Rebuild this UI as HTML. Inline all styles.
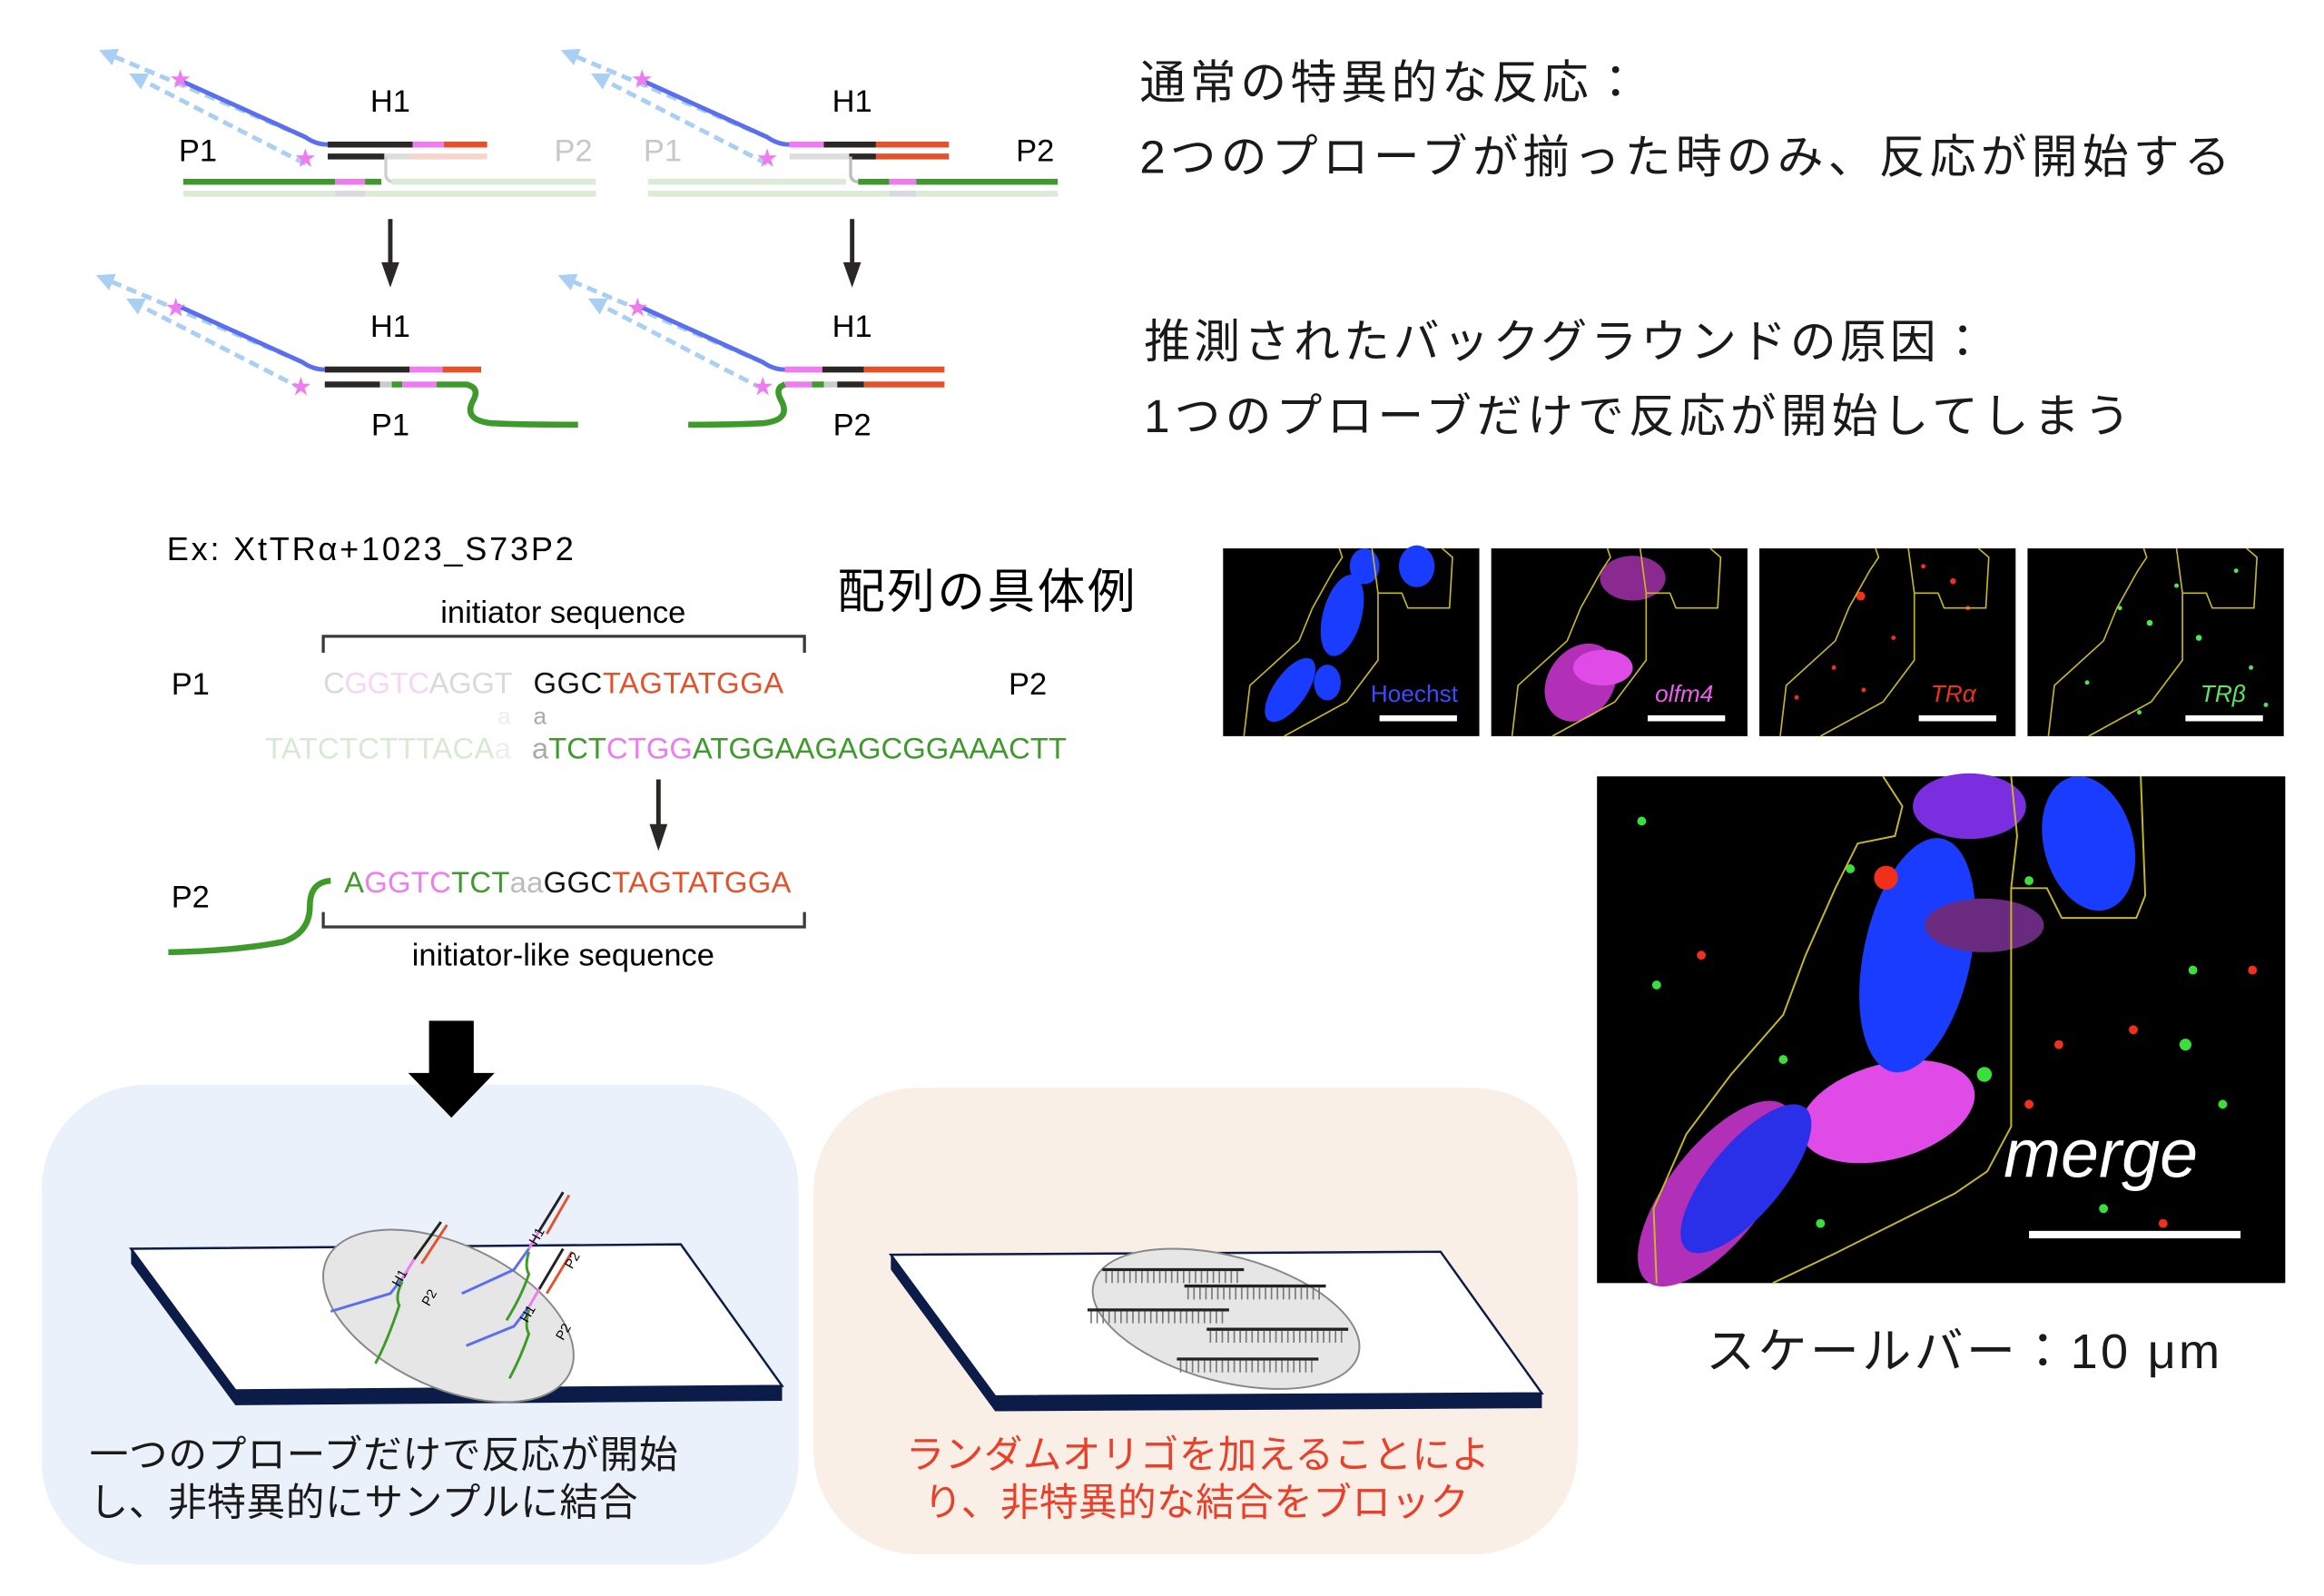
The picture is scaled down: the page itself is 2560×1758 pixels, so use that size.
<!DOCTYPE html>
<html><head><meta charset="utf-8"><style>
html,body{margin:0;padding:0;background:#fff;}
svg{display:block;}
text{font-family:"Liberation Sans","Noto Sans CJK JP",sans-serif;}
</style></head><body>
<svg width="2560" height="1758" viewBox="0 0 1560 1071" preserveAspectRatio="none" xmlns="http://www.w3.org/2000/svg">
<defs>
<marker id="ab" viewBox="0 0 10 10" refX="5" refY="5" markerWidth="4" markerHeight="4" orient="auto"><path d="M0,0L10,5L0,10z" fill="#a9cff5"/></marker>
<g id="outline"><path d="M14 126 L18 92 L51 62 L60 40 L74 15 L80 6 L78 0 M100 0 L104 30 L104 75 L83 103 L41 126 M104 30 L120 30 L124 40 L152 40 L154 6 L147 0" fill="none" stroke="#c8b820" stroke-width="1"/></g>
</defs>

<!-- ===== top diagrams ===== -->
<g stroke-linecap="butt">
<line x1="205" y1="92" x2="72" y2="36" stroke="#a9cff5" stroke-width="3" stroke-dasharray="7,4" marker-end="url(#ab)"/>
<line x1="205" y1="110" x2="92" y2="52" stroke="#a9cff5" stroke-width="3" stroke-dasharray="7,4" marker-end="url(#ab)"/>
<path d="M121 54 L205 92 Q212 97 220 97" fill="none" stroke="#5a6ef0" stroke-width="3"/>
<line x1="220" y1="97" x2="277" y2="97" stroke="#2b2726" stroke-width="4"/>
<line x1="277" y1="97" x2="298" y2="97" stroke="#ee7cf0" stroke-width="4"/>
<line x1="298" y1="97" x2="327" y2="97" stroke="#e4522c" stroke-width="4"/>
<line x1="220" y1="105" x2="258" y2="105" stroke="#2b2726" stroke-width="4"/>
<line x1="258" y1="105" x2="275" y2="105" stroke="#ddd" stroke-width="4"/>
<line x1="275" y1="105" x2="327" y2="105" stroke="#f6d5cd" stroke-width="4"/>
<path d="M259 105 L259 118 Q260 122 264 122" fill="none" stroke="#cfcfcf" stroke-width="2"/>
<line x1="123" y1="122" x2="225" y2="122" stroke="#3e9a2a" stroke-width="4"/>
<line x1="225" y1="122" x2="245" y2="122" stroke="#ee7cf0" stroke-width="4"/>
<line x1="245" y1="122" x2="256" y2="122" stroke="#3e9a2a" stroke-width="4"/>
<line x1="263" y1="122" x2="400" y2="122" stroke="#dcebd8" stroke-width="4"/>
<line x1="123" y1="130" x2="400" y2="130" stroke="#dcebd8" stroke-width="4"/>
<line x1="225" y1="130" x2="245" y2="130" stroke="#dcd8e0" stroke-width="4"/>
<text x="121" y="58" font-size="14" fill="#ee7cf0" text-anchor="middle">★</text>
<text x="205" y="111" font-size="14" fill="#ee7cf0" text-anchor="middle">★</text>
<text x="262" y="75" font-size="21" text-anchor="middle">H1</text>
<text x="120" y="108" font-size="21">P1</text>
<text x="372" y="108" font-size="21" fill="#c8c8c8">P2</text>

<line x1="515" y1="92" x2="382" y2="36" stroke="#a9cff5" stroke-width="3" stroke-dasharray="7,4" marker-end="url(#ab)"/>
<line x1="515" y1="110" x2="402" y2="52" stroke="#a9cff5" stroke-width="3" stroke-dasharray="7,4" marker-end="url(#ab)"/>
<path d="M431 54 L515 92 Q522 97 530 97" fill="none" stroke="#5a6ef0" stroke-width="3"/>
<line x1="530" y1="97" x2="553" y2="97" stroke="#ee7cf0" stroke-width="4"/>
<line x1="553" y1="97" x2="588" y2="97" stroke="#2b2726" stroke-width="4"/>
<line x1="588" y1="97" x2="637" y2="97" stroke="#e4522c" stroke-width="4"/>
<line x1="530" y1="105" x2="570" y2="105" stroke="#ddd" stroke-width="4"/>
<line x1="570" y1="105" x2="588" y2="105" stroke="#2b2726" stroke-width="4"/>
<line x1="588" y1="105" x2="637" y2="105" stroke="#e4522c" stroke-width="4"/>
<path d="M571 105 L571 118 Q572 122 576 122" fill="none" stroke="#bdbdbd" stroke-width="2"/>
<line x1="435" y1="122" x2="568" y2="122" stroke="#dcebd8" stroke-width="4"/>
<line x1="576" y1="122" x2="597" y2="122" stroke="#3e9a2a" stroke-width="4"/>
<line x1="597" y1="122" x2="615" y2="122" stroke="#ee7cf0" stroke-width="4"/>
<line x1="615" y1="122" x2="710" y2="122" stroke="#3e9a2a" stroke-width="4"/>
<line x1="435" y1="130" x2="710" y2="130" stroke="#dcebd8" stroke-width="4"/>
<line x1="597" y1="130" x2="615" y2="130" stroke="#dcd8e0" stroke-width="4"/>
<text x="431" y="58" font-size="14" fill="#ee7cf0" text-anchor="middle">★</text>
<text x="515" y="111" font-size="14" fill="#ee7cf0" text-anchor="middle">★</text>
<text x="572" y="75" font-size="21" text-anchor="middle">H1</text>
<text x="432" y="108" font-size="21" fill="#c8c8c8">P1</text>
<text x="682" y="108" font-size="21">P2</text>

<line x1="262" y1="147" x2="262" y2="178" stroke="#2b2726" stroke-width="3"/>
<path d="M256 176 L268 176 L262 193z" fill="#2b2726"/>
<line x1="572" y1="147" x2="572" y2="178" stroke="#2b2726" stroke-width="3"/>
<path d="M566 176 L578 176 L572 193z" fill="#2b2726"/>

<line x1="203" y1="243" x2="70" y2="187" stroke="#a9cff5" stroke-width="3" stroke-dasharray="7,4" marker-end="url(#ab)"/>
<line x1="203" y1="261" x2="90" y2="203" stroke="#a9cff5" stroke-width="3" stroke-dasharray="7,4" marker-end="url(#ab)"/>
<path d="M119 205 L203 243 Q210 248 218 248" fill="none" stroke="#5a6ef0" stroke-width="3"/>
<line x1="218" y1="248" x2="275" y2="248" stroke="#2b2726" stroke-width="4"/>
<line x1="275" y1="248" x2="297" y2="248" stroke="#ee7cf0" stroke-width="4"/>
<line x1="297" y1="248" x2="323" y2="248" stroke="#e4522c" stroke-width="4"/>
<line x1="218" y1="258" x2="255" y2="258" stroke="#2b2726" stroke-width="4"/>
<line x1="255" y1="258" x2="263" y2="258" stroke="#ccc" stroke-width="4"/>
<line x1="263" y1="258" x2="270" y2="258" stroke="#3e9a2a" stroke-width="4"/>
<line x1="270" y1="258" x2="293" y2="258" stroke="#ee7cf0" stroke-width="4"/>
<path d="M293 258 L313 258 Q322 260 318 268 Q310 282 330 284 Q350 285 388 285" fill="none" stroke="#3e9a2a" stroke-width="4"/>
<text x="118" y="211" font-size="14" fill="#ee7cf0" text-anchor="middle">★</text>
<text x="202" y="264" font-size="14" fill="#ee7cf0" text-anchor="middle">★</text>
<text x="262" y="226" font-size="21" text-anchor="middle">H1</text>
<text x="262" y="292" font-size="21" text-anchor="middle">P1</text>

<line x1="512" y1="243" x2="380" y2="187" stroke="#a9cff5" stroke-width="3" stroke-dasharray="7,4" marker-end="url(#ab)"/>
<line x1="512" y1="261" x2="400" y2="203" stroke="#a9cff5" stroke-width="3" stroke-dasharray="7,4" marker-end="url(#ab)"/>
<path d="M428 205 L512 243 Q519 248 527 248" fill="none" stroke="#5a6ef0" stroke-width="3"/>
<line x1="527" y1="248" x2="552" y2="248" stroke="#ee7cf0" stroke-width="4"/>
<line x1="552" y1="248" x2="580" y2="248" stroke="#2b2726" stroke-width="4"/>
<line x1="580" y1="248" x2="634" y2="248" stroke="#e4522c" stroke-width="4"/>
<line x1="527" y1="258" x2="545" y2="258" stroke="#ee7cf0" stroke-width="4"/>
<line x1="545" y1="258" x2="553" y2="258" stroke="#3e9a2a" stroke-width="4"/>
<line x1="553" y1="258" x2="562" y2="258" stroke="#ccc" stroke-width="4"/>
<line x1="562" y1="258" x2="580" y2="258" stroke="#2b2726" stroke-width="4"/>
<line x1="580" y1="258" x2="634" y2="258" stroke="#e4522c" stroke-width="4"/>
<path d="M527 258 Q520 260 524 268 Q532 282 512 284 Q490 285 462 285" fill="none" stroke="#3e9a2a" stroke-width="4"/>
<text x="428" y="211" font-size="14" fill="#ee7cf0" text-anchor="middle">★</text>
<text x="512" y="264" font-size="14" fill="#ee7cf0" text-anchor="middle">★</text>
<text x="572" y="226" font-size="21" text-anchor="middle">H1</text>
<text x="572" y="292" font-size="21" text-anchor="middle">P2</text>
</g>

<text x="765" y="66" font-size="31" fill="#1a1a1a" textLength="335">通常の特異的な反応：</text>
<text x="765" y="116" font-size="31" fill="#1a1a1a" textLength="732">2つのプローブが揃った時のみ、反応が開始する</text>
<text x="768" y="240" font-size="31" fill="#1a1a1a" textLength="565">推測されたバックグラウンドの原因：</text>
<text x="768" y="290" font-size="31" fill="#1a1a1a" textLength="662">1つのプローブだけで反応が開始してしまう</text>

<text x="112" y="376" font-size="22" textLength="273">Ex: XtTRα+1023_S73P2</text>
<text x="562" y="408" font-size="32" textLength="200">配列の具体例</text>
<text x="378" y="418" font-size="21" text-anchor="middle">initiator sequence</text>
<path d="M217 438 L217 427 L540 427 L540 438" fill="none" stroke="#3a3a3a" stroke-width="2"/>
<text x="115" y="466" font-size="21">P1</text>
<text x="677" y="466" font-size="21">P2</text>
<text x="217" y="465" font-size="20" textLength="127"><tspan fill="#d9d9d9">C</tspan><tspan fill="#f5d6f5">GGTC</tspan><tspan fill="#d9d9d9">AGGT</tspan></text>
<text x="358" y="465" font-size="20" textLength="168"><tspan fill="#111">GGC</tspan><tspan fill="#e4522c">TAGTATGGA</tspan></text>
<text x="334" y="486" font-size="16" fill="#eee">a</text>
<text x="358" y="486" font-size="16" fill="#aaa">a</text>
<text x="178" y="509" font-size="20" fill="#d6ead2" textLength="165">TATCTCTTTACA<tspan fill="#eee">a</tspan></text>
<text x="357" y="509" font-size="20" textLength="359"><tspan fill="#aaa">a</tspan><tspan fill="#3e9a2a">TCT</tspan><tspan fill="#ee7cf0">CTGG</tspan><tspan fill="#3e9a2a">ATGGAAGAGCGGAAACTT</tspan></text>
<line x1="442" y1="523" x2="442" y2="555" stroke="#2b2726" stroke-width="3"/>
<path d="M436 553 L448 553 L442 571z" fill="#2b2726"/>
<text x="115" y="609" font-size="21">P2</text>
<path d="M113 639 Q160 638 190 632 Q208 626 208 608 Q208 592 222 591" fill="none" stroke="#3e9a2a" stroke-width="4"/>
<text x="231" y="599" font-size="20" textLength="300"><tspan fill="#3e9a2a">A</tspan><tspan fill="#ee7cf0">GGTC</tspan><tspan fill="#3e9a2a">TCT</tspan><tspan fill="#bbb">aa</tspan><tspan fill="#111">GGC</tspan><tspan fill="#e4522c">TAGTATGGA</tspan></text>
<path d="M217 612 L217 622 L540 622 L540 612" fill="none" stroke="#3a3a3a" stroke-width="2"/>
<text x="378" y="648" font-size="21" text-anchor="middle">initiator-like sequence</text>

<rect x="28" y="728" width="508" height="322" rx="70" fill="#eaf1fa"/>
<rect x="546" y="730" width="513" height="313" rx="70" fill="#f9efe6"/>
<rect x="288" y="685" width="30" height="38" fill="#000"/>
<path d="M274 720 L332 720 L303 750z" fill="#000"/>

<path d="M88 838 L158 933 L525 930 L525 940 L158 943 L88 848z" fill="#0b1c48"/>
<path d="M88 838 L457 835 L525 930 L158 933z" fill="#fff" stroke="#0b1c48" stroke-width="1.5"/>
<ellipse cx="301" cy="883" rx="90" ry="48" transform="rotate(25 301 883)" fill="#e6e6e6" stroke="#888" stroke-width="1.2"/>
<g fill="none" stroke-width="1.8">
 <path d="M222 880 L262 868 L270 858" stroke="#5a6ef0"/><path d="M270 858 L278 845" stroke="#ee7cf0"/><path d="M278 845 L296 820" stroke="#222"/><path d="M283 848 L300 822" stroke="#e4522c"/>
 <path d="M270 860 Q265 870 268 876 Q260 900 252 915" stroke="#3e9a2a"/>
 <path d="M310 868 L345 852 L355 838" stroke="#5a6ef0"/><path d="M355 838 L362 826" stroke="#ee7cf0"/><path d="M362 826 L378 800" stroke="#222"/><path d="M367 828 L382 802" stroke="#e4522c"/>
 <path d="M355 840 Q352 850 355 855 Q350 870 340 886" stroke="#3e9a2a"/>
 <path d="M313 903 L345 890 L355 877" stroke="#5a6ef0"/><path d="M355 877 L362 865" stroke="#ee7cf0"/><path d="M362 865 L378 838" stroke="#222"/><path d="M367 868 L384 840" stroke="#e4522c"/>
 <path d="M355 879 Q352 890 355 895 Q350 910 342 925" stroke="#3e9a2a"/>
</g>
<text x="0" y="0" font-size="9" transform="translate(268 864) rotate(-60)">H1</text>
<text x="0" y="0" font-size="9" transform="translate(288 877) rotate(-60)">P2</text>
<text x="0" y="0" font-size="9" transform="translate(360 836) rotate(-60)">H1</text>
<text x="0" y="0" font-size="9" transform="translate(384 852) rotate(-60)">P2</text>
<text x="0" y="0" font-size="9" transform="translate(354 888) rotate(-60)">H1</text>
<text x="0" y="0" font-size="9" transform="translate(378 900) rotate(-60)">P2</text>
<text x="60" y="985" font-size="26" fill="#1a1a1a" textLength="395">一つのプローブだけで反応が開始</text>
<text x="60" y="1017" font-size="26" fill="#1a1a1a" textLength="368">し、非特異的にサンプルに結合</text>

<path d="M598 842 L668 937 L1035 935 L1035 945 L668 947 L598 852z" fill="#0b1c48"/>
<path d="M598 842 L967 840 L1035 935 L668 937z" fill="#fff" stroke="#0b1c48" stroke-width="1.5"/>
<ellipse cx="823" cy="885" rx="92" ry="42" transform="rotate(15 823 885)" fill="#e6e6e6" stroke="#888" stroke-width="1.2"/>
<g stroke="#222">
 <line x1="740" y1="852" x2="835" y2="852" stroke-width="2"/>
 <line x1="795" y1="863" x2="890" y2="863" stroke-width="2"/>
 <line x1="730" y1="879" x2="825" y2="879" stroke-width="2"/>
 <line x1="810" y1="892" x2="905" y2="892" stroke-width="2"/>
 <line x1="790" y1="912" x2="885" y2="912" stroke-width="2"/>
</g>
<g stroke="#777" stroke-dasharray="1,3">
 <line x1="742" y1="857" x2="833" y2="857" stroke-width="8"/>
 <line x1="797" y1="868" x2="888" y2="868" stroke-width="8"/>
 <line x1="732" y1="884" x2="823" y2="884" stroke-width="8"/>
 <line x1="812" y1="897" x2="903" y2="897" stroke-width="8"/>
 <line x1="792" y1="917" x2="883" y2="917" stroke-width="8"/>
</g>
<text x="608" y="985" font-size="26" fill="#e8402a" textLength="392">ランダムオリゴを加えることによ</text>
<text x="620" y="1017" font-size="26" fill="#e8402a" textLength="366">り、非特異的な結合をブロック</text>

<g transform="translate(821 368)">
 <rect width="172" height="126" fill="#000"/>
 <ellipse cx="95" cy="12" rx="10" ry="12" fill="#1a3cff"/><ellipse cx="130" cy="12" rx="12" ry="14" fill="#1a3cff"/>
 <ellipse cx="80" cy="45" rx="13" ry="28" transform="rotate(15 80 45)" fill="#1a3cff"/>
 <ellipse cx="45" cy="95" rx="11" ry="25" transform="rotate(35 45 95)" fill="#1a3cff"/><ellipse cx="70" cy="90" rx="9" ry="12" fill="#1a3cff"/>
 <use href="#outline"/>
 <text x="99" y="103" font-size="16" fill="#3a4cff">Hoechst</text>
 <rect x="105" y="112" width="52" height="4" fill="#fff"/>
</g>
<g transform="translate(1001 368)">
 <rect width="172" height="126" fill="#000"/>
 <ellipse cx="60" cy="90" rx="22" ry="28" transform="rotate(35 60 90)" fill="#b22fb8"/>
 <ellipse cx="75" cy="80" rx="20" ry="12" fill="#e04be8"/>
 <ellipse cx="95" cy="20" rx="22" ry="15" fill="#8a2a90"/>
 <use href="#outline"/>
 <text x="110" y="103" font-size="16" fill="#ee5cf0" font-style="italic">olfm4</text>
 <rect x="105" y="112" width="52" height="4" fill="#fff"/>
</g>
<g transform="translate(1181 368)">
 <rect width="172" height="126" fill="#000"/>
 <g fill="#f0301a"><circle cx="68" cy="32" r="3"/><circle cx="130" cy="22" r="2"/><circle cx="50" cy="80" r="1.5"/><circle cx="90" cy="60" r="1.5"/><circle cx="25" cy="100" r="1.5"/><circle cx="140" cy="40" r="1.5"/><circle cx="110" cy="12" r="1.5"/><circle cx="70" cy="95" r="1.5"/></g>
 <use href="#outline"/>
 <text x="115" y="103" font-size="16" fill="#f0301a" font-style="italic">TRα</text>
 <rect x="107" y="112" width="52" height="4" fill="#fff"/>
</g>
<g transform="translate(1361 368)">
 <rect width="172" height="126" fill="#000"/>
 <g fill="#4ae84a"><circle cx="82" cy="50" r="2"/><circle cx="115" cy="60" r="2"/><circle cx="62" cy="40" r="1.5"/><circle cx="100" cy="25" r="1.5"/><circle cx="150" cy="80" r="1.5"/><circle cx="40" cy="90" r="1.5"/><circle cx="140" cy="15" r="1.5"/><circle cx="160" cy="105" r="1.5"/><circle cx="75" cy="110" r="1.5"/></g>
 <use href="#outline"/>
 <text x="116" y="103" font-size="16" fill="#5ae85a" font-style="italic">TRβ</text>
 <rect x="106" y="112" width="52" height="4" fill="#fff"/>
</g>

<g transform="translate(1072 521)">
 <rect width="462" height="340" fill="#000"/>
 <ellipse cx="80" cy="280" rx="32" ry="75" transform="rotate(38 80 280)" fill="#b22fb8"/>
 <ellipse cx="195" cy="225" rx="60" ry="32" transform="rotate(-15 195 225)" fill="#e04be8"/>
 <ellipse cx="100" cy="270" rx="24" ry="62" transform="rotate(40 100 270)" fill="#2a30e8"/>
 <ellipse cx="215" cy="120" rx="36" ry="80" transform="rotate(12 215 120)" fill="#1a3cff"/>
 <ellipse cx="330" cy="45" rx="30" ry="46" transform="rotate(-15 330 45)" fill="#1a3cff"/>
 <ellipse cx="250" cy="20" rx="38" ry="22" fill="#7b2de0"/>
 <ellipse cx="260" cy="100" rx="40" ry="18" fill="#6a2a80"/>
 <circle cx="194" cy="68" r="8" fill="#f0301a"/>
 <g fill="#3ae03a"><circle cx="30" cy="30" r="3"/><circle cx="260" cy="200" r="5"/><circle cx="395" cy="180" r="4"/><circle cx="420" cy="220" r="3"/><circle cx="125" cy="190" r="3"/><circle cx="170" cy="62" r="3"/><circle cx="150" cy="300" r="3"/><circle cx="400" cy="130" r="3"/><circle cx="340" cy="290" r="3"/><circle cx="40" cy="140" r="3"/><circle cx="290" cy="70" r="3"/></g>
 <g fill="#f0301a"><circle cx="70" cy="120" r="3"/><circle cx="360" cy="170" r="3"/><circle cx="440" cy="130" r="3"/><circle cx="310" cy="180" r="3"/><circle cx="380" cy="300" r="3"/><circle cx="290" cy="220" r="3"/></g>
 <path d="M40 340 L38 290 L60 240 L90 200 L125 160 L140 120 L160 75 L175 45 L200 40 L205 20 L192 0 M278 0 L282 40 L278 75 L278 235 L262 265 L240 280 L200 300 L160 320 L118 340 M278 75 L302 75 L312 95 L362 95 L368 80 L365 0" fill="none" stroke="#c8b820" stroke-width="1.2"/>
 <text x="273" y="269" font-size="46" fill="#fff" font-style="italic">merge</text>
 <rect x="290" y="305" width="142" height="5" fill="#fff"/>
</g>
<text x="1145" y="918" font-size="33" fill="#1a1a1a" textLength="345">スケールバー：10 μm</text>
</svg>
</body></html>
